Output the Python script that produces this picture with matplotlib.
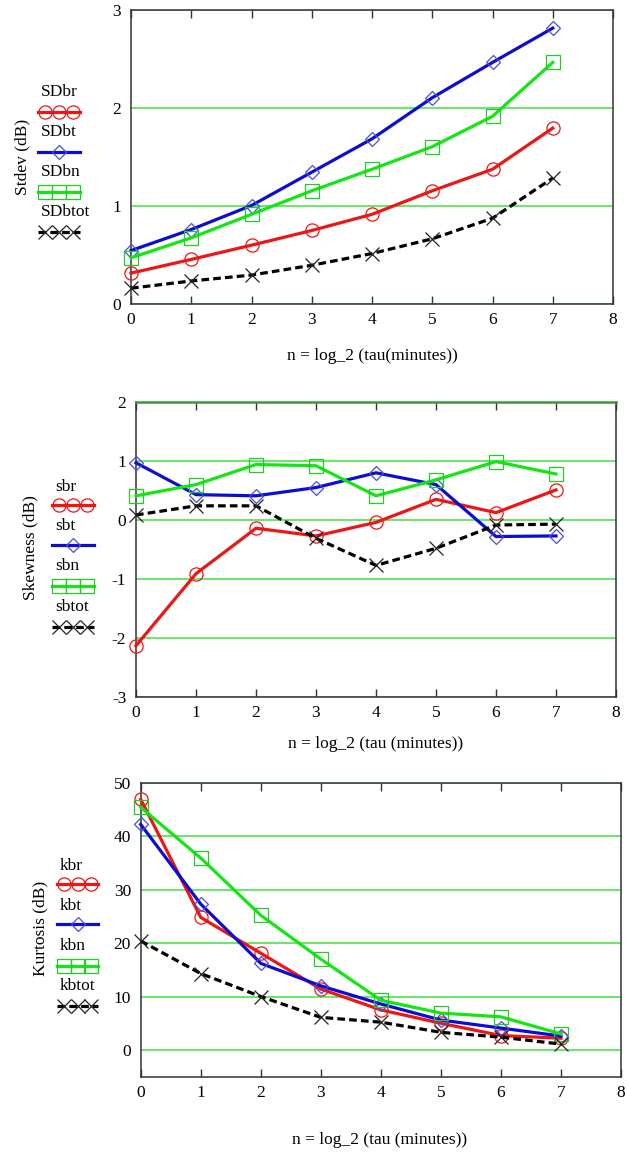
"""Stdev / skewness / kurtosis vs averaging time, three stacked panels."""
import numpy as np
import matplotlib
matplotlib.use("Agg")
import matplotlib.pyplot as plt
from matplotlib.lines import Line2D

plt.rcParams.update({
    "font.family": "Liberation Serif",
    "font.size": 12.5,
    "axes.unicode_minus": False,
})

W, H = 628, 1153

n = [0, 1, 2, 3, 4, 5, 6, 7]

# panel 1: standard deviation (dB)
sd_br = [0.31, 0.45, 0.595, 0.745, 0.91, 1.15, 1.37, 1.79]
sd_bt = [0.54, 0.755, 1.0, 1.34, 1.68, 2.10, 2.46, 2.81]
sd_bn = [0.466, 0.67, 0.91, 1.15, 1.37, 1.60, 1.91, 2.46]
sd_btot = [0.156, 0.23, 0.29, 0.39, 0.51, 0.66, 0.87, 1.28]

# panel 2: skewness
s_br = [-2.13, -0.91, -0.14, -0.27, -0.04, 0.35, 0.125, 0.51]
s_bt = [0.97, 0.43, 0.41, 0.55, 0.80, 0.60, -0.28, -0.27]
s_bn = [0.41, 0.60, 0.94, 0.92, 0.41, 0.68, 0.99, 0.78]
s_btot = [0.085, 0.24, 0.24, -0.31, -0.77, -0.48, -0.085, -0.07]

# panel 3: kurtosis
k_br = [46.9, 24.8, 18.1, 11.4, 7.5, 5.0, 2.7, 2.2]
k_bt = [42.2, 27.3, 16.2, 12.0, 8.6, 5.6, 4.1, 2.6]
k_bn = [45.4, 35.9, 25.2, 17.0, 9.3, 6.9, 6.2, 3.0]
k_btot = [20.4, 14.3, 10.0, 6.1, 5.2, 3.3, 2.4, 1.1]

RED = "#ee1515"
BLUE = "#0c0cd2"
GREEN = "#14e614"
BLACK = "#000000"
GRID = "#3ee03e"

STYLES = [
    dict(color=RED, marker="o", mec=RED, ls="-"),
    dict(color=BLUE, marker="D", mec="#4a4ae0", ls="-", ms_scale=0.75),
    dict(color=GREEN, marker="s", mec="#22cc22", ls="-"),
    dict(color=BLACK, marker="x", mec="#222222", ls=(0, (2.4, 1.3))),
]


def fx(px):
    return px / W


def fy(py):
    return 1 - py / H


def panel(box, series, names, ylim, yticks, ylabel, xlabel, ylab_pos,
          xlab_pos, leg_x, leg_rows, top_green=False):
    left, top, right, bottom = box
    ax = fig.add_axes([fx(left), fy(bottom), fx(right - left),
                       fy(top) - fy(bottom)])
    for vals, st in zip(series, STYLES):
        ms = 9.5 * st.get("ms_scale", 1.0)
        ax.plot(n, vals, color=st["color"], ls=st["ls"], lw=2.3,
                marker=st["marker"], ms=ms, mfc="none", mec=st["mec"],
                mew=0.9, clip_on=False, zorder=3)
    ax.set_xlim(0, 8)
    ax.set_ylim(*ylim)
    ax.set_xticks(range(9))
    ax.set_yticks(yticks)
    ax.yaxis.grid(True, color=GRID, lw=1.1)
    ax.set_axisbelow(True)
    ax.tick_params(axis="x", direction="in", top=True, bottom=True,
                   length=6, width=1, color="#333333", pad=6)
    ax.tick_params(axis="y", length=0, pad=7)
    for sp in ax.spines.values():
        sp.set_color("#333333")
        sp.set_linewidth(1.1)
    if top_green:
        ax.spines["top"].set_color("#3a9a3a")
        ax.spines["top"].set_linewidth(1.8)
    fig.text(fx(ylab_pos[0]), fy(ylab_pos[1]), ylabel, rotation=90,
             ha="center", va="center")
    fig.text(fx(xlab_pos[0]), fy(xlab_pos[1]), xlabel, ha="center",
             va="center")
    # legend block: name above, sample line below
    x0, x1 = leg_x
    for name, st, (ty, ly) in zip(names, STYLES, leg_rows):
        fig.text(fx(x0 + 3), fy(ty), name, ha="left", va="center")
        xs = np.linspace(fx(x0), fx(x1), 7)
        every = [3] if st["marker"] == "D" else [1, 3, 5]
        ms = 9.5 * st.get("ms_scale", 1.0)
        fig.add_artist(Line2D(xs, [fy(ly)] * len(xs), transform=fig.transFigure,
                              color=st["color"], ls=st["ls"], lw=2.3,
                              marker=st["marker"], ms=ms, mfc="none",
                              mec=st["mec"], mew=0.9, markevery=every))
    return ax


fig = plt.figure(figsize=(W / 100, H / 100), dpi=100)

panel((131, 9.5, 613, 303.5), [sd_br, sd_bt, sd_bn, sd_btot],
      ["SDbr", "SDbt", "SDbn", "SDbtot"], (0, 3), [0, 1, 2, 3],
      "Stdev (dB)", "n = log_2 (tau(minutes))", (22, 157), (372, 356),
      (38, 80), [(92, 112), (132, 152), (172, 192), (212, 232)])

panel((136, 402, 616, 697), [s_br, s_bt, s_bn, s_btot],
      ["sbr", "sbt", "sbn", "sbtot"], (-3, 2), [-3, -2, -1, 0, 1, 2],
      "Skewness (dB)", "n = log_2 (tau (minutes))", (30, 548), (376, 744),
      (52, 94), [(487, 505), (526, 545), (566, 586), (607, 627)],
      top_green=True)

panel((140.7, 782.7, 621, 1076.7), [k_br, k_bt, k_bn, k_btot],
      ["kbr", "kbt", "kbn", "kbtot"], (-5, 50), [0, 10, 20, 30, 40, 50],
      "Kurtosis (dB)", "n = log_2 (tau (minutes))", (40, 928), (380, 1140),
      (57, 98), [(866, 884), (906, 924), (946, 966), (986, 1006)])

fig.savefig("out.png", dpi=100)
print("Saved out.png")
